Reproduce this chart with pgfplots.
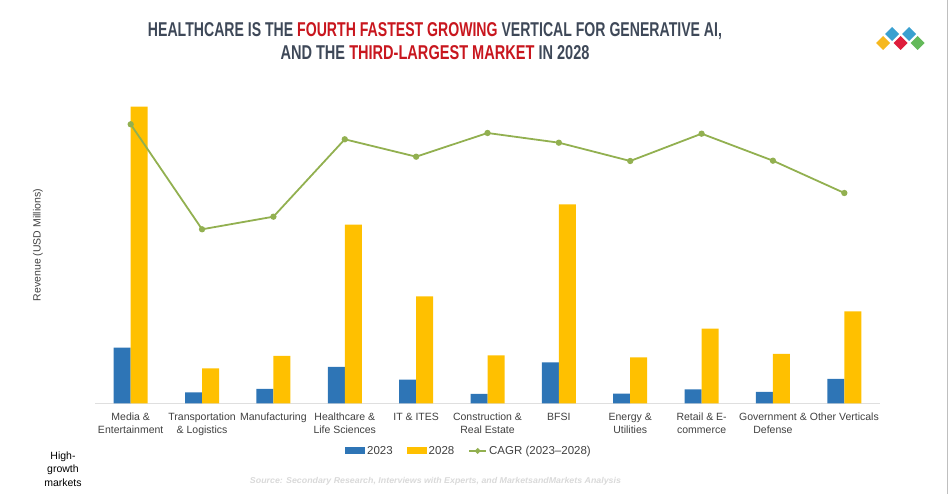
\documentclass[border=0pt]{standalone}
\usepackage{pgfplots}
\usepackage{pgfplotstable}
\pgfplotsset{compat=1.18}
\usepackage{fontspec}
\setmainfont{Liberation Sans}
\usepackage{graphicx}

\definecolor{bar23}{RGB}{46,117,182}
\definecolor{bar28}{RGB}{255,192,0}
\definecolor{cagrgreen}{RGB}{146,176,80}
\definecolor{titlegray}{RGB}{62,72,88}
\definecolor{titlered}{RGB}{200,22,30}
\definecolor{labelgray}{RGB}{64,64,64}
\definecolor{logoblue}{RGB}{58,160,208}
\definecolor{logoyellow}{RGB}{246,184,30}
\definecolor{logored}{RGB}{222,30,60}
\definecolor{logogreen}{RGB}{100,185,90}

% revenue bars and CAGR line (arbitrary units)
\pgfplotstableread{
idx y23  y28   cagr
0   55.6 296.6 279.0
1   11.0  35.0 174.0
2   14.3  47.3 186.6
3   36.3 178.6 264.0
4   23.6 107.0 246.6
5    9.3  48.0 270.3
6   41.0 199.0 260.6
7    9.6  46.0 242.3
8   14.0  74.6 269.6
9   11.3  49.3 242.6
10  24.3  92.0 210.3
}\datatable

\begin{document}
\begin{tikzpicture}[x=1pt,y=1pt]
\path[use as bounding box] (0,0) rectangle (950,494);

% title
\node[anchor=base] at (435,457) {\resizebox{574pt}{\height}{\fontsize{20}{24}\selectfont\bfseries
  \textcolor{titlegray}{HEALTHCARE IS THE} \textcolor{titlered}{FOURTH FASTEST GROWING} \textcolor{titlegray}{VERTICAL FOR GENERATIVE AI,}}};
\node[anchor=base] at (435,434) {\resizebox{309pt}{\height}{\fontsize{20}{24}\selectfont\bfseries
  \textcolor{titlegray}{AND THE} \textcolor{titlered}{THIRD-LARGEST MARKET} \textcolor{titlegray}{IN 2028}}};

% logo
\foreach \cx/\cy/\col in {883/451/logoyellow, 892/460/logoblue, 900.5/451/logored, 909/460/logoblue, 917.5/451/logogreen}{
  \fill[\col] (\cx,\cy+7) -- (\cx+7,\cy) -- (\cx,\cy-7) -- (\cx-7,\cy) -- cycle;
}
\draw[gray!50, line width=1pt] (947.5,0) -- (947.5,494);

% y label
\node[rotate=90, text=labelgray, font=\fontsize{10.5}{12}\selectfont] at (38,249) {Revenue (USD Millions)};

\begin{axis}[
  at={(95pt,90.7pt)}, anchor=south west,
  scale only axis, width=785pt, height=303.3pt,
  xmin=-0.5, xmax=10.5, ymin=0, ymax=303.3,
  axis x line*=bottom, axis y line=none,
  x axis line style={draw=gray!25, line width=1.2pt, -},
  xtick={0,...,10}, ytick=\empty,
  major tick length=0pt,
  xticklabels={Media \&\\Entertainment, Transportation\\\& Logistics, Manufacturing, Healthcare \&\\Life Sciences, IT \& ITES, Construction \&\\Real Estate, BFSI, Energy \&\\Utilities, Retail \& E-\\commerce, Government \&\\Defense, Other Verticals},
  xticklabel style={align=center, text=labelgray, font=\fontsize{10.5}{12.5}\selectfont, yshift=-6.5pt},
  legend columns=-1,
  legend style={at={(0.4764,-0.157)}, anchor=center, draw=none, fill=none,
    font=\fontsize{11.5}{13}\selectfont, text=labelgray,
    /tikz/every even column/.append style={column sep=12pt}},
]
\addplot[ybar, bar width=17pt, bar shift=-8.5pt, fill=bar23, draw=none,
  legend image code/.code={\fill[bar23] (0pt,-3.5pt) rectangle (20pt,3.5pt);}]
  table[x=idx, y=y23] {\datatable};
\addlegendentry{2023}
\addplot[ybar, bar width=17pt, bar shift=8.5pt, fill=bar28, draw=none,
  legend image code/.code={\fill[bar28] (0pt,-3.5pt) rectangle (20pt,3.5pt);}]
  table[x=idx, y=y28] {\datatable};
\addlegendentry{2028}
\addlegendimage{cagrgreen, line width=1.8pt, mark=*, mark size=1.8pt}
\addlegendentry{CAGR (2023–2028)}
\end{axis}

\begin{axis}[
  at={(95pt,90.7pt)}, anchor=south west,
  scale only axis, width=785pt, height=303.3pt,
  xmin=-0.5, xmax=10.5, ymin=0, ymax=303.3,
  hide axis,
]
\addplot[cagrgreen, line width=1.8pt, mark=*, mark size=2.2pt]
  table[x=idx, y=cagr] {\datatable};
\end{axis}

% footnotes
\node[align=center, font=\fontsize{10.5}{13.5}\selectfont] at (63,25) {High-\\growth\\markets};
\node[anchor=center] at (435.5,13) {\resizebox{371pt}{\height}{\fontsize{8.5}{10}\selectfont\itshape\bfseries\color{gray!30}Source: Secondary Research, Interviews with Experts, and MarketsandMarkets Analysis}};
\end{tikzpicture}
\end{document}
